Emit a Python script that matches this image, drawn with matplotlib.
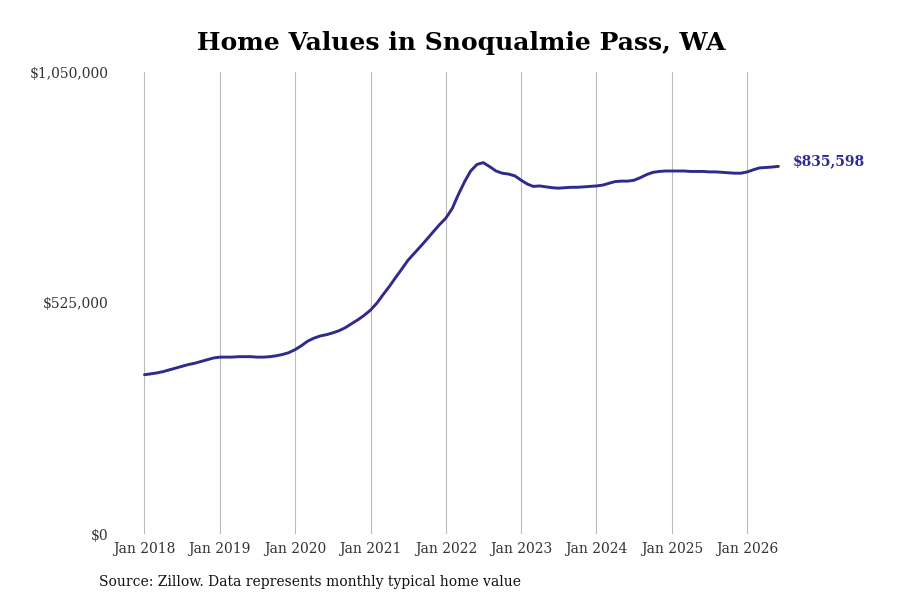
import numpy as np
import pandas as pd
import matplotlib
matplotlib.use('Agg')
import matplotlib.pyplot as plt
import matplotlib.dates as mdates
from matplotlib.ticker import FuncFormatter

# monthly typical home value, Jan 2018 - Jun 2026 (thousands of $)
values_2018 = [362, 364, 366, 369, 373, 377, 381, 385, 388, 392, 396, 400]
values_2019 = [402, 402, 402, 403, 403, 403, 402, 402, 403, 405, 408, 412]
values_2020 = [419, 428, 438, 445, 450, 453, 457, 462, 469, 478, 487, 497]
values_2021 = [509, 525, 543, 562, 582, 602, 622, 638, 654, 670, 687, 703]
values_2022 = [718, 740, 770, 800, 825, 840, 844, 835, 825, 820, 818, 814]
values_2023 = [804, 795, 790, 791, 789, 787, 786, 787, 788, 788, 789, 790]
values_2024 = [791, 793, 797, 801, 802, 802, 804, 810, 817, 822, 824, 825]
values_2025 = [825, 825, 825, 824, 824, 824, 823, 823, 822, 821, 820, 820]
values_2026 = [823, 828, 832, 833, 834, 835.598]

values = np.array(values_2018 + values_2019 + values_2020 + values_2021 + values_2022
                  + values_2023 + values_2024 + values_2025 + values_2026) * 1000
dates = pd.date_range('2018-01-01', periods=len(values), freq='MS')

tick_years = list(range(2018, 2027))
ytick_values = [0, 525000, 1050000]
last_label = '$835,598'

line_color = '#2e2b8c'

plt.rcParams['font.family'] = ['DejaVu Serif']

fig = plt.figure(figsize=(9, 6), dpi=100)
ax = fig.add_axes([0.125, 0.11, 0.775, 0.77])

ax.plot(dates, values, color=line_color, linewidth=2.1, solid_capstyle='round')

x0 = mdates.date2num(pd.Timestamp('2018-01-01'))
ax.set_xlim(x0 - 155, x0 + 3226)
ax.set_ylim(0, 1050000)

ax.set_xticks([pd.Timestamp(f'{y}-01-01') for y in tick_years])
ax.xaxis.set_major_formatter(mdates.DateFormatter('Jan %Y'))
ax.set_yticks(ytick_values)
ax.yaxis.set_major_formatter(FuncFormatter(lambda v, p: f'${v:,.0f}'))

ax.tick_params(axis='both', length=0, labelsize=10, colors='#333333')
ax.tick_params(axis='x', pad=6)
ax.tick_params(axis='y', pad=3)
for lbl in ax.get_yticklabels():
    lbl.set_verticalalignment('center_baseline')

ax.grid(axis='x', color='#bbbbbb', linewidth=0.8)
ax.grid(axis='y', visible=False)
for s in ax.spines.values():
    s.set_visible(False)

ax.annotate(last_label, xy=(dates[-1], values[-1]), xytext=(10, 4),
            textcoords='offset points', va='center', ha='left',
            fontsize=10, fontweight='bold', color=line_color)

ax.set_title('Home Values in Snoqualmie Pass, WA', fontsize=18, fontweight='bold', pad=16)

fig.text(0.11, 0.03, 'Source: Zillow. Data represents monthly typical home value',
         fontsize=10, color='#111111', ha='left', va='center')

fig.savefig('out.png', dpi=100)
